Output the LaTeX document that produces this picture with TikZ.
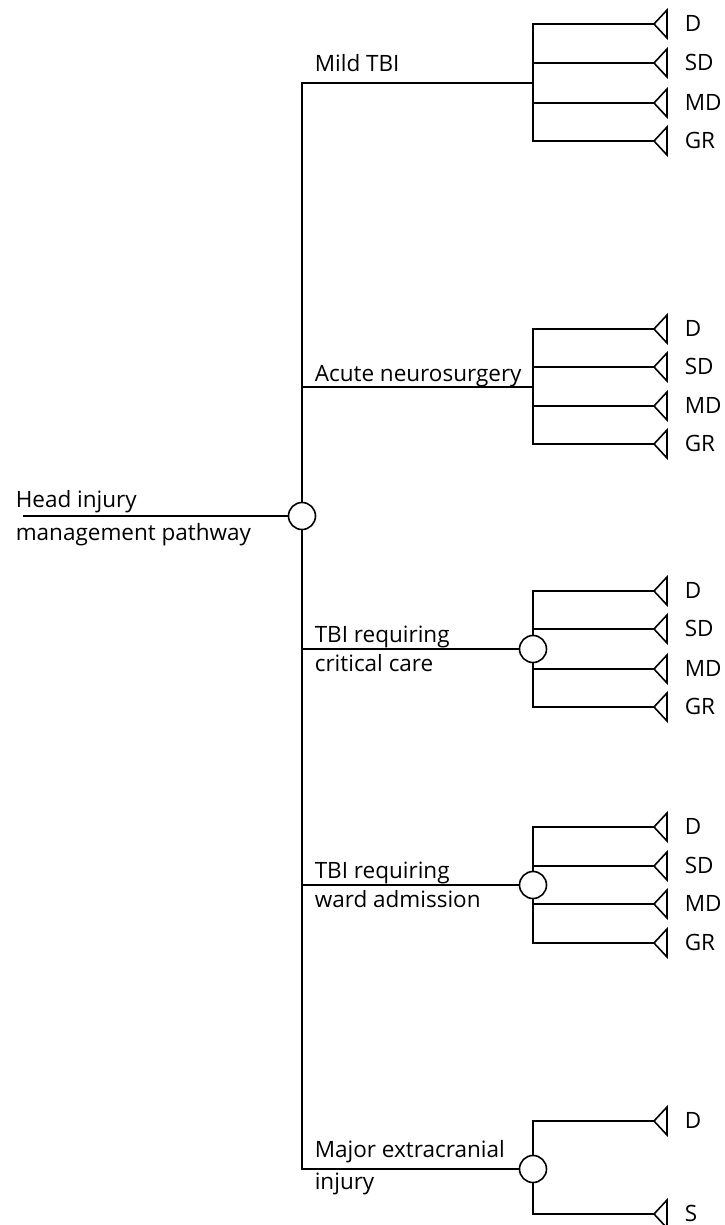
\documentclass[tikz,border=0pt]{standalone}
\usepackage{fontspec}
\setmainfont{Open Sans}
\begin{document}
\begin{tikzpicture}[x=1bp,y=-1bp,line width=1.6bp,line join=miter,
  lbl/.style={anchor=base west,inner sep=0,text=black,font=\fontsize{22.5bp}{27bp}\selectfont},
  chance/.style={circle,draw,fill=white,minimum size=27bp,inner sep=0},
  terminal/.pic={\draw[fill=white] (0,0) -- (13,-14) -- (13,14) -- cycle;}]
\useasboundingbox (0,0) rectangle (725,1225);
\newcommand\outc[3]{% name, y, label
  \coordinate (#1j) at (533,#2);
  \coordinate (#1) at (654,#2);
  \node[lbl] (#1l) at (684,#2+7.5) {#3};}
% root
\coordinate (start) at (23,516);
\node[chance] (root) at (302,516) {};
\draw (start) -- (root.west);
% group 1: Mild TBI
\coordinate (b1) at (302,83);
\coordinate (j1) at (533,83);
\outc{o1a}{24}{D}\outc{o1b}{63}{SD}\outc{o1c}{103}{MD}\outc{o1d}{141}{GR}
\draw (j1) -- (b1) -- (root.north);
\draw (o1a) -- (o1aj) -- (o1dj) -- (o1d);
\draw (o1bj) -- (o1b); \draw (o1cj) -- (o1c);
\foreach \t in {o1a,o1b,o1c,o1d} \pic at (\t) {terminal};
\node[lbl] (l1) at (314,71) {Mild TBI};
% group 2: Acute neurosurgery
\coordinate (b2) at (302,387);
\coordinate (j2) at (533,387);
\outc{o2a}{329}{D}\outc{o2b}{367}{SD}\outc{o2c}{406}{MD}\outc{o2d}{444}{GR}
\draw (b2) -- (j2);
\draw (o2a) -- (o2aj) -- (o2dj) -- (o2d);
\draw (o2bj) -- (o2b); \draw (o2cj) -- (o2c);
\foreach \t in {o2a,o2b,o2c,o2d} \pic at (\t) {terminal};
\node[lbl] (l2) at (314,381) {Acute neurosurgery};
% group 3: critical care
\coordinate (b3) at (302,649);
\node[chance] (c3) at (533,649) {};
\outc{o3a}{591}{D}\outc{o3b}{629}{SD}\outc{o3c}{669}{MD}\outc{o3d}{707}{GR}
\draw (b3) -- (c3.west);
\draw (o3a) -- (o3aj) -- (c3.north);
\draw (c3.south) -- (o3dj) -- (o3d);
\draw (o3bj) -- (o3b); \draw (o3cj) -- (o3c);
\foreach \t in {o3a,o3b,o3c,o3d} \pic at (\t) {terminal};
\node[lbl] (l3a) at (314,642) {TBI requiring};
\node[lbl] (l3b) at (314,671) {critical care};
% group 4: ward admission
\coordinate (b4) at (302,885);
\node[chance] (c4) at (533,885) {};
\outc{o4a}{827}{D}\outc{o4b}{866}{SD}\outc{o4c}{904}{MD}\outc{o4d}{943}{GR}
\draw (b4) -- (c4.west);
\draw (o4a) -- (o4aj) -- (c4.north);
\draw (c4.south) -- (o4dj) -- (o4d);
\draw (o4bj) -- (o4b); \draw (o4cj) -- (o4c);
\foreach \t in {o4a,o4b,o4c,o4d} \pic at (\t) {terminal};
\node[lbl] (l4a) at (314,878) {TBI requiring};
\node[lbl] (l4b) at (314,907) {ward admission};
% group 5: major extracranial injury
\coordinate (b5) at (302,1169);
\node[chance] (c5) at (533,1169) {};
\outc{o5a}{1121}{D}\outc{o5b}{1214}{S}
\draw (root.south) -- (b5) -- (c5.west);
\draw (o5a) -- (o5aj) -- (c5.north);
\draw (c5.south) -- (o5bj) -- (o5b);
\foreach \t in {o5a,o5b} \pic at (\t) {terminal};
\node[lbl] (l5a) at (314,1157) {Major extracranial};
\node[lbl] (l5b) at (314,1189) {injury};
% root label
\node[lbl] (r1) at (15,507) {Head injury};
\node[lbl] (r2) at (15,540) {management pathway};
\end{tikzpicture}
\end{document}
